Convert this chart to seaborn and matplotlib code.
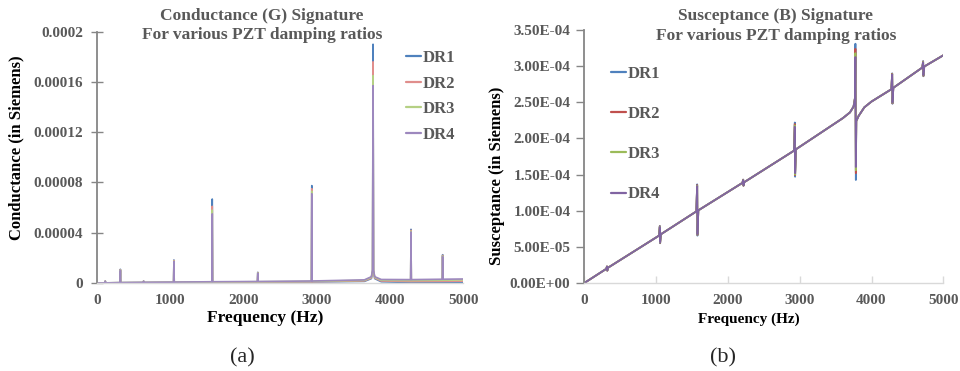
import numpy as np
import pandas as pd
import seaborn as sns
import matplotlib.pyplot as plt
from matplotlib.ticker import FixedLocator

# ---- Conductance G (micro-siemens) vs frequency (Hz) ----
g_freq = [0, 109, 113, 117, 315, 319, 323, 632, 636, 640, 1046, 1050, 1054,
          1569, 1573, 1577, 2191, 2195, 2199, 2928, 2932, 2936, 3650, 3745,
          3762, 3768, 3774, 3791, 3880, 4282, 4286, 4290, 4714, 4718, 4722,
          5000]
g_dr1 = [0.0, 0.1, 1.6, 0.1, 0.2, 10.9, 0.2, 0.3, 1.6, 0.3, 0.4, 18.3, 0.4,
         0.5, 66.8, 0.5, 0.6, 8.5, 0.6, 0.8, 77.5, 0.8, 1.3, 3.5,
         9.0, 190.0, 9.0, 3.5, 1.0, 0.4, 42.7, 0.4, 0.3, 22.5, 0.3,
         0.3]
g_dr2 = [0.0, 0.1, 1.5, 0.1, 0.2, 10.6, 0.2, 0.3, 1.5, 0.3, 0.5, 17.9, 0.5,
         0.6, 61.0, 0.6, 0.8, 8.3, 0.8, 1.0, 75.0, 1.0, 1.7, 4.0,
         9.5, 176.0, 9.5, 4.0, 1.6, 1.2, 42.0, 1.2, 1.3, 22.0, 1.3,
         1.5]
g_dr3 = [0.0, 0.1, 1.4, 0.1, 0.3, 10.3, 0.3, 0.4, 1.4, 0.4, 0.6, 17.5, 0.6,
         0.8, 58.0, 0.8, 1.0, 8.1, 1.0, 1.3, 73.0, 1.3, 2.1, 4.5,
         10.0, 165.0, 10.0, 4.5, 2.2, 2.0, 41.3, 2.0, 2.2, 21.5, 2.2,
         2.5]
g_dr4 = [0.0, 0.1, 1.3, 0.1, 0.3, 10.0, 0.3, 0.5, 1.3, 0.5, 0.7, 17.1, 0.7,
         1.0, 55.0, 1.0, 1.2, 7.9, 1.2, 1.6, 71.0, 1.6, 2.5, 5.0,
         10.5, 157.0, 10.5, 5.0, 2.8, 2.7, 40.6, 2.7, 3.0, 21.0, 3.0,
         3.2]

# ---- Susceptance B (micro-siemens) vs frequency (Hz) ----
b_freq = [0, 305, 316, 320, 331, 1040, 1052, 1056, 1068, 1560, 1572, 1576,
          1588, 2202, 2213, 2217, 2228, 2920, 2932, 2936, 2948, 3600, 3700,
          3750, 3770, 3776, 3782, 3788, 3820, 3900, 4000, 4276, 4288, 4292,
          4304, 4707, 4719, 4723, 4735, 5000]
b_dr1 = [0, 19.5, 23, 17, 21.2, 65.5, 79, 55, 67.5, 99, 136.5, 65.5,
         100.5, 138.5, 143, 134.5, 139.5, 183, 222, 147, 185, 228, 236,
         244, 256, 331, 142.5, 224, 231, 243, 251, 268, 290, 248,
         270, 298, 307, 286, 299.5, 315]
b_dr2 = [0, 19.5, 23, 17, 21.2, 65.5, 78.5, 55.5, 67.5, 99, 135.5, 66.5,
         100.5, 138.5, 143, 134.5, 139.5, 183, 220, 149, 185, 228, 236,
         244, 256, 324, 152, 224, 231, 243, 251, 268, 289.5, 248.5,
         270, 298, 306.5, 286.5, 299.5, 315]
b_dr3 = [0, 19.5, 22.8, 17.2, 21.2, 65.5, 78, 56, 67.5, 99, 134.5, 67,
         100.5, 138.5, 142.8, 134.7, 139.5, 183, 218, 150, 185, 228, 236,
         244, 256, 318, 156, 224, 231, 243, 251, 268, 289, 249,
         270, 298, 306, 287, 299.5, 315]
b_dr4 = [0, 19.5, 22.6, 17.4, 21.2, 65.5, 77.5, 56.5, 67.5, 99, 134, 67.5,
         100.5, 138.5, 142.6, 134.9, 139.5, 183, 216, 152, 185, 228, 236,
         244, 256, 312.6, 160.5, 224, 231, 243, 251, 268, 288.5, 249.5,
         270, 298, 305.5, 287.5, 299.5, 315]

series_names = ["DR1", "DR2", "DR3", "DR4"]

g_ticks = [0, 0.00004, 0.00008, 0.00012, 0.00016, 0.0002]
g_tick_labels = ["0", "0.00004", "0.00008", "0.00012", "0.00016", "0.0002"]
b_ticks = [0, 5e-5, 1e-4, 1.5e-4, 2e-4, 2.5e-4, 3e-4, 3.5e-4]
b_tick_labels = ["0.00E+00", "5.00E-05", "1.00E-04", "1.50E-04", "2.00E-04",
                 "2.50E-04", "3.00E-04", "3.50E-04"]
f_ticks = [0, 1000, 2000, 3000, 4000, 5000]


def long_form(freq, columns):
    frames = []
    for name, vals in zip(series_names, columns):
        frames.append(pd.DataFrame({"freq": freq,
                                    "value": np.asarray(vals) * 1e-6,
                                    "series": name}))
    return pd.concat(frames, ignore_index=True)


g_df = long_form(g_freq, [g_dr1, g_dr2, g_dr3, g_dr4])
b_df = long_form(b_freq, [b_dr1, b_dr2, b_dr3, b_dr4])

sns.set_style("white")
plt.rcParams["font.family"] = ["Liberation Serif", "DejaVu Serif"]

W, H = 960, 371
fig = plt.figure(figsize=(W / 100, H / 100), dpi=100)


def box(x0, y0, x1, y1):
    return [x0 / W, 1 - y1 / H, (x1 - x0) / W, (y1 - y0) / H]


ax_g = fig.add_axes(box(97, 31.7, 463.3, 283))
ax_b = fig.add_axes(box(584.3, 30, 943.3, 283))

grey_text = "#595959"
axis_grey = "#868686"

pal_g = {"DR1": "#4F81BD", "DR2": "#E08E8C", "DR3": "#B5D084", "DR4": "#9D88BE"}
pal_b = {"DR1": "#4F81BD", "DR2": "#C0504D", "DR3": "#9BBB59", "DR4": "#8064A2"}

sns.lineplot(data=g_df, x="freq", y="value", hue="series",
             hue_order=series_names, palette=pal_g, estimator=None,
             linewidth=1.2, ax=ax_g)
sns.lineplot(data=b_df, x="freq", y="value", hue="series",
             hue_order=series_names, palette=pal_b, estimator=None,
             linewidth=1.3, ax=ax_b)

tick_font = dict(family=["Liberation Serif", "DejaVu Serif"], weight="bold",
                 size=11)

# Conductance panel axes
ax_g.set_xlim(0, 5000)
ax_g.set_ylim(0, 0.0002)
ax_g.yaxis.set_major_locator(FixedLocator(g_ticks))
ax_g.set_yticklabels(g_tick_labels, fontdict=tick_font, color=grey_text)
ax_g.xaxis.set_major_locator(FixedLocator(f_ticks))
ax_g.set_xticklabels([str(t) for t in f_ticks], fontdict=tick_font,
                     color=grey_text)
ax_g.tick_params(axis="y", direction="inout", length=8, width=1.0,
                 color=axis_grey, pad=6, left=True)
ax_g.tick_params(axis="x", length=0, pad=8, bottom=True)
for s in ["top", "right"]:
    ax_g.spines[s].set_visible(False)
ax_g.spines["left"].set_color(axis_grey)
ax_g.spines["left"].set_linewidth(1.3)
ax_g.spines["bottom"].set_color("#D9D9D9")
ax_g.spines["bottom"].set_linewidth(1.0)

# Susceptance panel axes
ax_b.set_xlim(0, 5000)
ax_b.set_ylim(0, 3.5e-4)
ax_b.yaxis.set_major_locator(FixedLocator(b_ticks))
ax_b.set_yticklabels(b_tick_labels, fontdict=tick_font, color=grey_text)
ax_b.xaxis.set_major_locator(FixedLocator(f_ticks))
ax_b.set_xticklabels([str(t) for t in f_ticks], fontdict=tick_font,
                     color=grey_text)
ax_b.tick_params(axis="y", direction="out", length=6, width=1.0,
                 color=axis_grey, pad=4, left=True)
ax_b.tick_params(axis="x", direction="in", length=5, width=1.0,
                 color="#D9D9D9", pad=8, bottom=True)
for s in ["top", "right"]:
    ax_b.spines[s].set_visible(False)
ax_b.spines["left"].set_color(axis_grey)
ax_b.spines["left"].set_linewidth(1.3)
ax_b.spines["bottom"].set_color("#D9D9D9")
ax_b.spines["bottom"].set_linewidth(1.0)

label_font = dict(family=["Liberation Serif", "DejaVu Serif"], weight="bold")

ax_g.set_xlabel("Frequency (Hz)", fontsize=12.5, color="black", **label_font)
ax_g.xaxis.set_label_coords(0.459, -0.139)
ax_g.xaxis.label.set_va("center")
ax_g.set_ylabel("Conductance (in Siemens)", fontsize=12, color="black",
                **label_font)
ax_g.yaxis.set_label_coords(-0.219, 0.537)
ax_g.yaxis.label.set_va("center")

ax_b.set_xlabel("Frequency (Hz)", fontsize=11, color="black", **label_font)
ax_b.xaxis.set_label_coords(0.457, -0.142)
ax_b.xaxis.label.set_va("center")
ax_b.set_ylabel("Susceptance (in Siemens)", fontsize=12, color="black",
                **label_font)
ax_b.yaxis.set_label_coords(-0.243, 0.423)
ax_b.yaxis.label.set_va("center")

# Titles
title_size = 12.5
fig.text(262 / W, 1 - 16 / H, "Conductance (G) Signature", ha="center",
         va="center", fontsize=title_size, color=grey_text, **label_font)
fig.text(262 / W, 1 - 35 / H, "For various PZT damping ratios", ha="center",
         va="center", fontsize=title_size, color=grey_text, **label_font)
fig.text(776 / W, 1 - 16 / H, "Susceptance (B) Signature", ha="center",
         va="center", fontsize=title_size, color=grey_text, **label_font)
fig.text(776 / W, 1 - 36 / H, "For various PZT damping ratios", ha="center",
         va="center", fontsize=title_size, color=grey_text, **label_font)

# Legends
leg_font = dict(family=["Liberation Serif", "DejaVu Serif"], weight="bold",
                size=12)
lg = ax_g.legend(loc="upper left", bbox_to_anchor=(406 / W, 1 - 50 / H),
                 bbox_transform=fig.transFigure, frameon=False, prop=leg_font,
                 labelcolor=grey_text, handlelength=0.9, handletextpad=0.1,
                 labelspacing=0.58, borderaxespad=0, borderpad=0)
lb = ax_b.legend(loc="upper left", bbox_to_anchor=(611 / W, 1 - 66 / H),
                 bbox_transform=fig.transFigure, frameon=False, prop=leg_font,
                 labelcolor=grey_text, handlelength=0.9, handletextpad=0.1,
                 labelspacing=1.45, borderaxespad=0, borderpad=0)
for leg in (lg, lb):
    for h in leg.get_lines():
        h.set_linewidth(1.6)

# Panel captions
fig.text(242 / W, 1 - 358 / H, "(a)", ha="center", va="center", fontsize=16,
         family=["Liberation Serif", "DejaVu Serif"])
fig.text(723 / W, 1 - 358 / H, "(b)", ha="center", va="center", fontsize=16,
         family=["Liberation Serif", "DejaVu Serif"])

fig.savefig("out.png", dpi=100)
